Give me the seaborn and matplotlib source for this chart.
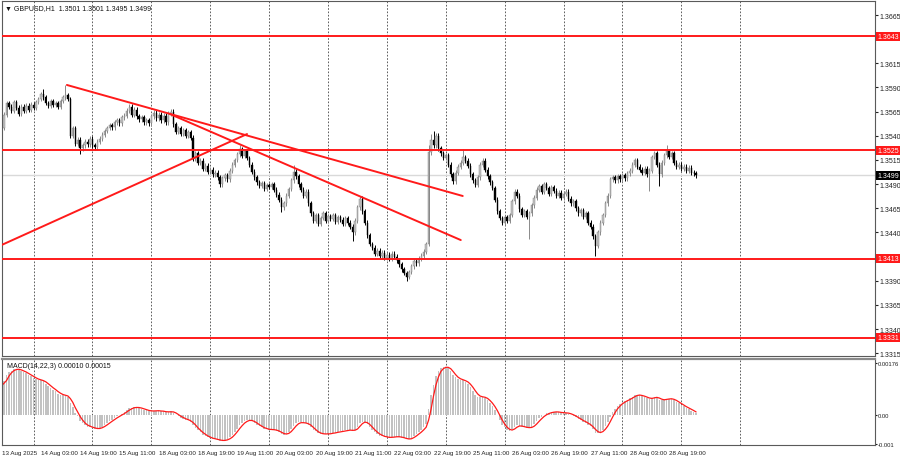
import numpy as np
import pandas as pd
import matplotlib
matplotlib.use("Agg")
import matplotlib.pyplot as plt
import seaborn as sns

# GBPUSD H1 closes, one per hourly bar (13 Aug 11:00 .. 29 Aug 06:00)
first_open = 1.3545
closes = [
    # 13 Aug
    1.3548, 1.3562, 1.3574, 1.3570, 1.3566, 1.3575, 1.3569, 1.3563, 1.3570, 1.3566, 1.3571, 1.3567, 1.3572,
    # 14 Aug
    1.3569, 1.3575, 1.3578, 1.3583, 1.3580, 1.3574, 1.3571, 1.3576, 1.3572, 1.3574, 1.3570, 1.3576,
    1.3580, 1.3582, 1.3578, 1.3540, 1.3548, 1.3532, 1.3536, 1.3527, 1.3530, 1.3534, 1.3531, 1.3537,
    # 15 Aug
    1.3530, 1.3528, 1.3534, 1.3537, 1.3541, 1.3545, 1.3548, 1.3551, 1.3549, 1.3554, 1.3556, 1.3553,
    1.3559, 1.3561, 1.3566, 1.3570, 1.3562, 1.3567, 1.3560, 1.3557, 1.3559, 1.3554, 1.3556, 1.3553,
    # 18 Aug
    1.3560, 1.3564, 1.3558, 1.3562, 1.3556, 1.3561, 1.3554, 1.3563, 1.3565, 1.3552, 1.3544, 1.3548,
    1.3542, 1.3546, 1.3540, 1.3544, 1.3538, 1.3516, 1.3522, 1.3512, 1.3514, 1.3506, 1.3509, 1.3503,
    # 19 Aug
    1.3505, 1.3500, 1.3502, 1.3497, 1.3490, 1.3496, 1.3499, 1.3495, 1.3504, 1.3510, 1.3515, 1.3521,
    1.3526, 1.3519, 1.3524, 1.3517, 1.3510, 1.3503, 1.3497, 1.3492, 1.3488, 1.3491, 1.3485, 1.3489,
    # 20 Aug
    1.3487, 1.3490, 1.3484, 1.3479, 1.3474, 1.3466, 1.3470, 1.3478, 1.3485, 1.3494, 1.3503, 1.3498,
    1.3490, 1.3484, 1.3478, 1.3482, 1.3470, 1.3460, 1.3452, 1.3458, 1.3449, 1.3455, 1.3460, 1.3452,
    # 21 Aug
    1.3457, 1.3454, 1.3458, 1.3451, 1.3456, 1.3453, 1.3449, 1.3455, 1.3450, 1.3446, 1.3440, 1.3452,
    1.3466, 1.3475, 1.3462, 1.3450, 1.3437, 1.3428, 1.3424, 1.3418, 1.3421, 1.3416, 1.3419, 1.3414,
    # 22 Aug
    1.3417, 1.3413, 1.3418, 1.3415, 1.3411, 1.3407, 1.3402, 1.3398, 1.3394, 1.3399, 1.3405, 1.3410,
    1.3408, 1.3413, 1.3416, 1.3420, 1.3428, 1.3523, 1.3536, 1.3530, 1.3540, 1.3527, 1.3522, 1.3517,
    # 25 Aug
    1.3520, 1.3510, 1.3500, 1.3493, 1.3502, 1.3508, 1.3512, 1.3518, 1.3514, 1.3509, 1.3500, 1.3494,
    1.3489, 1.3497, 1.3510, 1.3514, 1.3505, 1.3498, 1.3492, 1.3486, 1.3474, 1.3462, 1.3455, 1.3450,
    # 26 Aug
    1.3456, 1.3452, 1.3458, 1.3472, 1.3482, 1.3478, 1.3464, 1.3458, 1.3462, 1.3456, 1.3460, 1.3468,
    1.3476, 1.3484, 1.3488, 1.3482, 1.3490, 1.3486, 1.3480, 1.3487, 1.3483, 1.3478, 1.3481, 1.3476,
    # 27 Aug
    1.3480, 1.3482, 1.3475, 1.3470, 1.3472, 1.3465, 1.3460, 1.3463, 1.3456, 1.3460, 1.3450, 1.3446,
    1.3436, 1.3426, 1.3440, 1.3450, 1.3458, 1.3470, 1.3478, 1.3495, 1.3497, 1.3494, 1.3498, 1.3495,
    # 28 Aug
    1.3499, 1.3496, 1.3501, 1.3504, 1.3510, 1.3515, 1.3508, 1.3505, 1.3502, 1.3506, 1.3500, 1.3504,
    1.3518, 1.3522, 1.3510, 1.3500, 1.3512, 1.3520, 1.3524, 1.3518, 1.3522, 1.3512, 1.3508, 1.3510,
    # 29 Aug
    1.3506, 1.3508, 1.3504, 1.3507, 1.3502, 1.3501, 1.3499,
]

# long wicks (bar index -> price)
wick_highs = {17: 1.3588, 26: 1.3593, 53: 1.3573, 97: 1.3530, 119: 1.3510, 174: 1.3530,
              175: 1.3542, 176: 1.3545, 188: 1.3526, 271: 1.3530}
wick_lows = {32: 1.3521, 114: 1.3461, 143: 1.3431, 165: 1.3390, 215: 1.3433, 242: 1.3416,
             264: 1.3483, 268: 1.3488}
wick = 0.00025

levels = [1.3643, 1.3525, 1.3413, 1.3331]
last_price = 1.3499

# analyst trend lines: (bar indices, prices)
trend_x = [[26.6, 187.9], [68.6, 187.1], [0.0, 100.0]]
trend_y = [[1.35926, 1.34777], [1.35625, 1.34321], [1.34270, 1.35418]]

day_starts = [13, 37, 61, 85, 109, 133, 157, 181, 205, 229, 253, 277, 301]
time_labels = ['13 Aug 2025', '14 Aug 03:00', '14 Aug 19:00', '15 Aug 11:00', '18 Aug 03:00',
               '18 Aug 19:00', '19 Aug 11:00', '20 Aug 03:00', '20 Aug 19:00', '21 Aug 11:00',
               '22 Aug 03:00', '22 Aug 19:00', '25 Aug 11:00', '26 Aug 03:00', '26 Aug 19:00',
               '27 Aug 11:00', '28 Aug 03:00', '28 Aug 19:00']
price_ticks = [1.3315, 1.3340, 1.3365, 1.3390, 1.3415, 1.3440, 1.3465, 1.3490, 1.3515,
               1.3540, 1.3565, 1.3590, 1.3615, 1.3640, 1.3665]
hidden_ticks = [1.3415, 1.3640]   # covered by the level boxes
macd_ticks = [0.00176, 0.0, -0.001]
macd_tick_labels = ['0.00176', '0.00', '-0.001']

# EMA levels at the first visible bar (matched to the MACD panel start)
ema_fast_start = 1.3506
ema_slow_start = 1.3496

# ---- derived OHLC ----
c = np.array(closes)
o = np.array([first_open] + closes[:-1])
idx = np.arange(len(c))
hi = np.maximum(o, c) + wick
lo = np.minimum(o, c) - wick
for k, v in wick_highs.items():
    hi[k] = v
for k, v in wick_lows.items():
    lo[k] = v

# MACD(14,22,3): main = EMA14 - EMA22, signal = SMA3 of main
fast = [ema_fast_start]
slow = [ema_slow_start]
for p in c[1:]:
    fast.append(fast[-1] + 2 / 15 * (p - fast[-1]))
    slow.append(slow[-1] + 2 / 23 * (p - slow[-1]))
macd = np.array(fast) - np.array(slow)
signal = pd.Series(macd).rolling(3, min_periods=1).mean().values

sns.set_style("white")
plt.rcParams['font.family'] = ['Liberation Sans', 'DejaVu Sans']

fig = plt.figure(figsize=(9, 4.6), dpi=100)
W, H = 900, 460
ax = fig.add_axes([1.5 / W, 1 - 357 / H, 873.5 / W, 355 / H])
axm = fig.add_axes([1.5 / W, 1 - 446 / H, 873.5 / W, 86 / H])
xlim = (-0.05, 355.9)

# price panel
for d in day_starts:
    ax.axvline(d, color='#444444', lw=0.6, ls=(0, (2, 2)), zorder=0)
    axm.axvline(d, color='#444444', lw=0.6, ls=(0, (2, 2)), zorder=0)
ax.axhline(last_price, color='#d9d9d9', lw=1, zorder=0.5)
for lv in levels:
    ax.axhline(lv, color='#ff1a1a', lw=1.4, zorder=3)

up = c >= o
ax.vlines(idx, lo, hi, colors=np.where(up, '#8a8a8a', '#000000'), lw=0.7, zorder=1)
ax.bar(idx, np.maximum(np.abs(c - o), 0.00004), bottom=np.minimum(o, c), width=0.55,
       color=np.where(up, '#c4c4c4', '#000000'), edgecolor=np.where(up, '#7a7a7a', '#000000'),
       linewidth=0.3, zorder=2)

for tx, ty in zip(trend_x, trend_y):
    sns.lineplot(x=tx, y=ty, ax=ax, color='#ff1a1a', lw=1.4, zorder=4)

ax.set_xlim(*xlim)
ax.set_ylim(1.33121, 1.36795)
ax.yaxis.tick_right()
ax.set_yticks(price_ticks)
ax.set_yticklabels(['' if t in hidden_ticks else f'{t:.4f}' for t in price_ticks])
ax.set_xticks([])
ax.set_xlabel('')
ax.set_ylabel('')
ax.tick_params(axis='y', labelsize=5, length=2, pad=1.5, colors='#222222', direction='out')

for lv in levels:
    ax.text(1.0025, lv, f'{lv:.4f}', transform=ax.get_yaxis_transform(), ha='left', va='center',
            fontsize=5, color='white', zorder=10,
            bbox=dict(boxstyle='square,pad=0.18', fc='#ff1a1a', ec='none'))
ax.text(1.0025, last_price, f'{last_price:.4f}', transform=ax.get_yaxis_transform(), ha='left',
        va='center', fontsize=5, color='white', zorder=10,
        bbox=dict(boxstyle='square,pad=0.18', fc='black', ec='none'))
ax.text(0.004, 0.992, '\u25bc GBPUSD,H1  1.3501 1.3501 1.3495 1.3499', transform=ax.transAxes,
        ha='left', va='top', fontsize=5, color='#111111')

# MACD panel
sns.barplot(x=idx, y=macd, ax=axm, native_scale=True, color='#c2c2c2', saturation=1,
            width=0.62, errorbar=None, linewidth=0, zorder=1)
sns.lineplot(x=idx, y=signal, ax=axm, color='#ff1a1a', lw=0.9, zorder=2)
axm.set_xlim(*xlim)
axm.set_ylim(-0.00102, 0.00191)
axm.yaxis.tick_right()
axm.set_yticks(macd_ticks)
axm.set_yticklabels(macd_tick_labels)
axm.set_xticks(np.arange(len(time_labels)) * 16)
axm.set_xticklabels(time_labels, ha='left')
axm.set_xlabel('')
axm.set_ylabel('')
axm.tick_params(axis='both', length=2, pad=1.5, colors='#222222', direction='out')
axm.tick_params(axis='x', labelsize=4.5)
axm.tick_params(axis='y', labelsize=4.2, length=1.5, pad=0.8)
axm.text(0.006, 0.97, 'MACD(14,22,3) 0.00010 0.00015', transform=axm.transAxes, ha='left',
         va='top', fontsize=5, color='#111111')

for a in (ax, axm):
    for sp in a.spines.values():
        sp.set_color('#5a5a5a')
        sp.set_linewidth(0.8)
axm.spines['top'].set_linewidth(1.6)
axm.spines['top'].set_color('#8a8a8a')

fig.savefig('out.png', dpi=100)
